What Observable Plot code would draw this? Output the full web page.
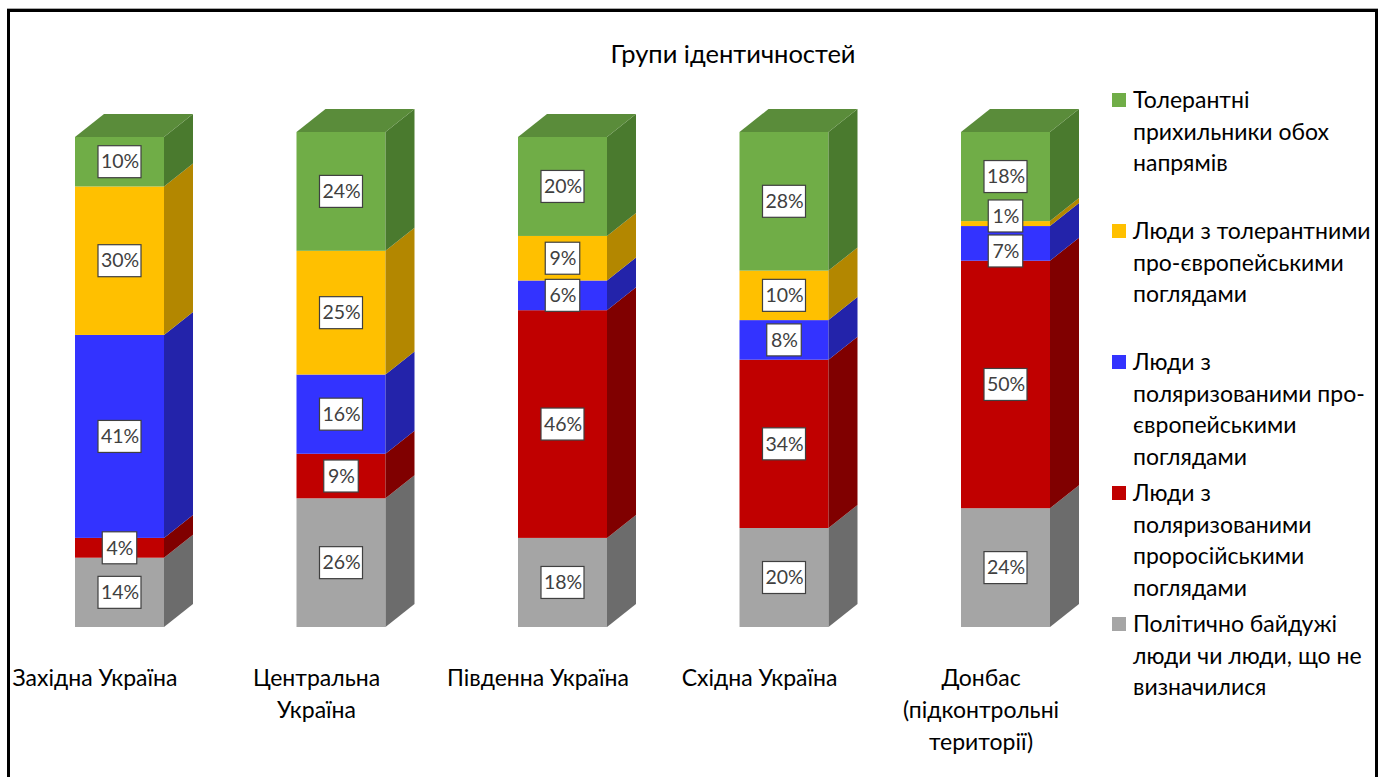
<!DOCTYPE html>
<html>
<head>
<meta charset="utf-8">
<script src="https://cdn.jsdelivr.net/npm/d3@7"></script>
<script src="https://cdn.jsdelivr.net/npm/@observablehq/plot@0.6"></script>
<style>
  html, body { margin: 0; padding: 0; background: #fff; }
  body { width: 1388px; height: 777px; overflow: hidden; position: relative; font-family: Lato, "Open Sans", sans-serif; }
  #chart { position: absolute; left: 0; top: 0; }
  #frame { position: absolute; left: 7px; top: 9px; width: 1371px; height: 820px; border: 3px solid #000; box-sizing: border-box; pointer-events: none; box-shadow: 0 -1px 0 #aaa; }
  #title { position: absolute; left: 483px; width: 500px; top: 37px; text-align: center; font-size: 25.5px; line-height: 32px; color: #000; }
  .leg { position: absolute; left: 1112px; width: 262px; }
  .leg .sw { position: absolute; left: 0; top: 9px; width: 14px; height: 14px; }
  .leg .tx { position: absolute; left: 21px; top: 0; white-space: pre; font-size: 23px; line-height: 31.5px; color: #000; }
</style>
</head>
<body>
<div id="chart"></div>
<div id="title">Групи ідентичностей</div>
<div id="legend"></div>
<div id="frame"></div>
<script>
// ---- data ----
const regions = ["Західна Україна", "Центральна Україна", "Південна Україна", "Східна Україна", "Донбас (підконтрольні території)"];
const regionLabels = ["Західна Україна", "Центральна\nУкраїна", "Південна Україна", "Східна Україна", "Донбас\n(підконтрольні\nтериторії)"];

// series, stacked bottom -> top
const groupNames = [
  "Політично байдужі люди чи люди, що не визначилися",
  "Люди з поляризованими проросійськими поглядами",
  "Люди з поляризованими про-європейськими поглядами",
  "Люди з толерантними про-європейськими поглядами",
  "Толерантні прихильники обох напрямів"
];
const legendLines = [
  "Політично байдужі\nлюди чи люди, що не\nвизначилися",
  "Люди з\nполяризованими\nпроросійськими\nпоглядами",
  "Люди з\nполяризованими про-\nєвропейськими\nпоглядами",
  "Люди з толерантними\nпро-європейськими\nпоглядами",
  "Толерантні\nприхильники обох\nнапрямів"
];
const indifferent          = [14, 26, 18, 20, 24];
const proRussianPolarized  = [4, 9, 46, 34, 50];
const proEuropeanPolarized = [41, 16, 6, 8, 7];
const proEuropeanTolerant  = [30, 25, 9, 10, 1];
const tolerantBoth         = [10, 24, 20, 28, 18];
const series = [indifferent, proRussianPolarized, proEuropeanPolarized, proEuropeanTolerant, tolerantBoth];

// ---- styles ----
const frontColors = ["#a5a5a5", "#c00000", "#3333ff", "#ffc000", "#70ad47"];
const sideColors  = ["#6c6c6c", "#800000", "#2323aa", "#b38700", "#4a7a2e"];
const topColors   = ["#8a8a8a", "#a00000", "#2a2ad0", "#d9a300", "#5a8c3a"];

// ---- geometry (pixel constants converted to data units) ----
const xDomain = [-0.5, regions.length - 0.5];
const xRange = [8.75, 1116.25];
const yDomain = [0, 100];
const yRange = [627, 132];
const pxX = (xRange[1] - xRange[0]) / (xDomain[1] - xDomain[0]);
const pxY = (yRange[0] - yRange[1]) / (yDomain[1] - yDomain[0]);
const halfW = 44.5 / pxX;
const depthX = 29 / pxX;
const depthY = 23 / pxY;
const boxH = 32 / pxY;
const minGap = 35 / pxY;

const fronts = [], sides = [], tops = [], labels = [];
regions.forEach((r, i) => {
  let s = 0;
  const segs = [];
  series.forEach((vals, g) => {
    const v = vals[i];
    const y1 = s, y2 = s + v;
    s = y2;
    const id = i + "-" + g;
    fronts.push({x1: i - halfW, x2: i + halfW, y1, y2, fill: frontColors[g]});
    sides.push({id, x: i + halfW, y1, y2, fill: sideColors[g]});
    sides.push({id, x: i + halfW + depthX, y1: y1 + depthY, y2: y2 + depthY, fill: sideColors[g]});
    if (g === series.length - 1) {
      tops.push({id, y: y2, x1: i - halfW, x2: i + halfW, fill: topColors[g]});
      tops.push({id, y: y2 + depthY, x1: i - halfW + depthX, x2: i + halfW + depthX, fill: topColors[g]});
    }
    segs.push({x: i, y: (y1 + y2) / 2, text: v + "%", digits: String(v).length});
  });
  // simple overlap relaxation of label boxes
  for (let pass = 0; pass < 10; pass++) {
    for (let k = 0; k < segs.length - 1; k++) {
      const d = segs[k + 1].y - segs[k].y;
      if (d < minGap) {
        const push = (minGap - d) / 2;
        segs[k].y -= push;
        segs[k + 1].y += push;
      }
    }
  }
  segs.forEach(l => {
    const bw = (26 + 8.5 * l.digits) / 2 / pxX;
    labels.push({...l, bx1: l.x - bw, bx2: l.x + bw, by1: l.y - boxH / 2, by2: l.y + boxH / 2});
  });
});

const cats = regionLabels.map((t, i) => ({x: i, y: 0, t}));

const chart = Plot.plot({
  width: 1388,
  height: 777,
  marginLeft: 0, marginRight: 0, marginTop: 0, marginBottom: 0,
  style: {background: "transparent", fontFamily: "Lato, 'Open Sans', sans-serif"},
  x: {domain: xDomain, range: xRange, axis: null},
  y: {domain: yDomain, range: yRange, axis: null},
  color: {type: "identity"},
  marks: [
    Plot.rect(fronts, {x1: "x1", x2: "x2", y1: "y1", y2: "y2", fill: "fill"}),
    Plot.areaY(sides, {x: "x", y1: "y1", y2: "y2", z: "id", fill: "fill", curve: "linear"}),
    Plot.areaX(tops, {y: "y", x1: "x1", x2: "x2", z: "id", fill: "fill", curve: "linear"}),
    Plot.rect(labels, {x1: "bx1", x2: "bx2", y1: "by1", y2: "by2", fill: "#ffffff", stroke: "#404040", strokeWidth: 1.2}),
    Plot.text(labels, {x: "x", y: "y", text: "text", fill: "#404040", fontSize: 19.5}),
    Plot.text(cats, {x: "x", y: "y", text: "t", dx: -25, dy: 36, lineAnchor: "top", lineHeight: 32 / 23, fontSize: 23, fill: "#000"})
  ]
});
document.getElementById("chart").appendChild(chart);

// legend (top -> bottom order = reversed stack)
const legend = document.getElementById("legend");
const order = [4, 3, 2, 1, 0];
order.forEach((g, k) => {
  const item = document.createElement("div");
  item.className = "leg";
  item.style.top = (100 + k * 131 - 15.75) + "px";
  const sw = document.createElement("div");
  sw.className = "sw";
  sw.style.background = frontColors[g];
  const tx = document.createElement("div");
  tx.className = "tx";
  tx.textContent = legendLines[g];
  item.appendChild(sw);
  item.appendChild(tx);
  legend.appendChild(item);
});
</script>
</body>
</html>
